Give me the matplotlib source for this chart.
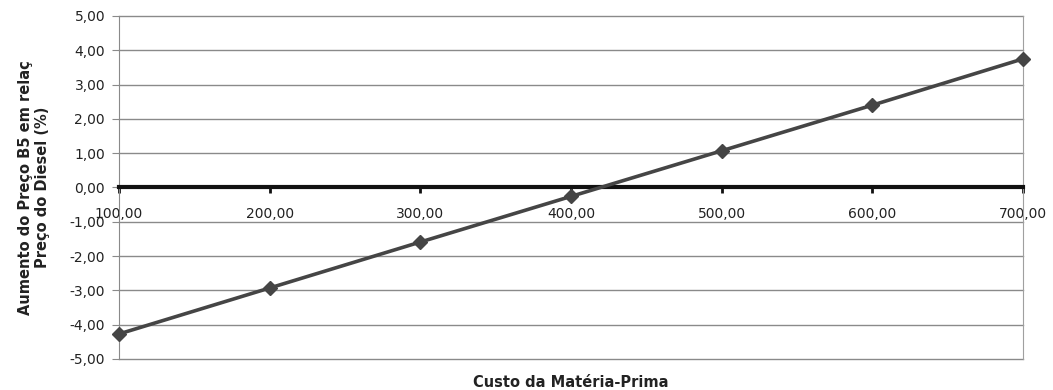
import matplotlib.pyplot as plt
from matplotlib.ticker import FuncFormatter

plt.rcParams['font.family'] = ['DejaVu Sans']

custo = [100, 200, 300, 400, 500, 600, 700]
aumento = [-4.27, -2.93, -1.59, -0.26, 1.07, 2.40, 3.75]
y_ticks = [-5, -4, -3, -2, -1, 0, 1, 2, 3, 4, 5]


def virgula(v, pos):
    return f'{v:.2f}'.replace('.', ',')


fig = plt.figure(figsize=(10.53, 3.90), dpi=100)
ax = fig.add_axes([0.113, 0.0795, 0.8585, 0.8795])

ax.plot(custo, aumento, color='#454545', linewidth=2.6,
        marker='D', markersize=7, markerfacecolor='#454545',
        markeredgecolor='#454545', clip_on=False, zorder=4)

ax.set_xlim(100, 700)
ax.set_ylim(-5, 5)
ax.set_yticks(y_ticks)
ax.set_xticks(custo)
ax.xaxis.set_major_formatter(FuncFormatter(virgula))
ax.yaxis.set_major_formatter(FuncFormatter(virgula))

ax.grid(axis='y', color='#8a8a8a', linewidth=1.0)
ax.set_axisbelow(True)
# keep the top and bottom grid lines whole
for linha in ax.get_ygridlines():
    linha.set_clip_on(False)

ax.spines['top'].set_visible(False)
ax.spines['right'].set_color('#a0a0a0')
ax.spines['left'].set_color('#8a8a8a')
ax.spines['bottom'].set_position(('data', 0))
ax.spines['bottom'].set_linewidth(3)
ax.spines['bottom'].set_color('#111111')
ax.spines['bottom'].set_zorder(3)

ax.tick_params(axis='y', direction='out', length=5, color='#8a8a8a',
               labelsize=10, pad=5, labelcolor='#222222')
ax.tick_params(axis='x', direction='out', length=4, width=2, color='#111111',
               labelsize=10, pad=10, labelcolor='#222222')

ax.set_ylabel('Aumento do Preço B5 em relaç\nPreço do Diesel (%)',
              fontsize=10.5, fontweight='bold', color='#222222', labelpad=14,
              linespacing=1.15)
fig.text(0.542, 0.008, 'Custo da Matéria-Prima', ha='center',
         fontsize=10.5, fontweight='bold', color='#222222')

fig.savefig('out.png', dpi=100)
